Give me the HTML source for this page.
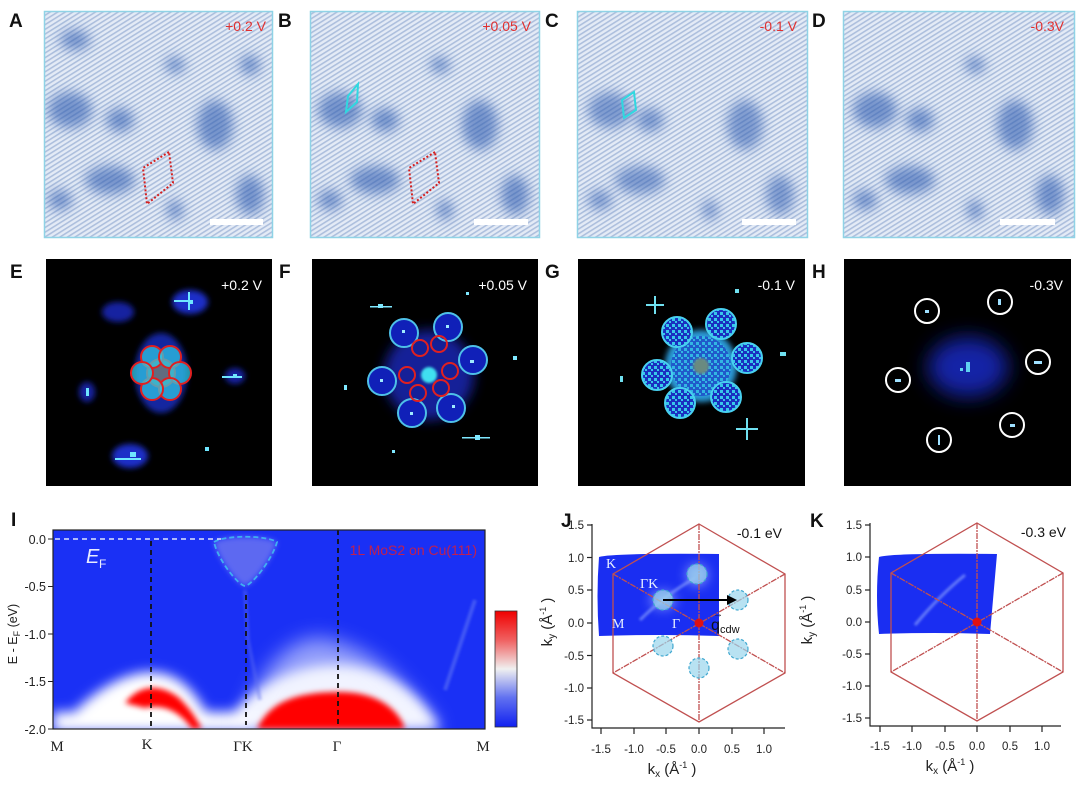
<!DOCTYPE html>
<html><head><meta charset="utf-8"><style>
html,body{margin:0;padding:0;background:#fff;}
svg{display:block;font-family:"Liberation Sans",Arial,sans-serif;}
</style></head><body>
<svg width="1080" height="791" viewBox="0 0 1080 791" xmlns="http://www.w3.org/2000/svg">
<defs>
  <pattern id="stripes" width="4" height="4" patternUnits="userSpaceOnUse" patternTransform="rotate(-32)">
    <rect width="4" height="4" fill="#e4ebf6"/>
    <rect y="0" width="4" height="1.6" fill="#adbfdd"/>
  </pattern>
  <pattern id="speck" width="6" height="6" patternUnits="userSpaceOnUse">
    <rect width="6" height="6" fill="#1a30c0"/>
    <rect x="0" y="0" width="3" height="3" fill="#38c8ea"/>
    <rect x="3" y="3" width="2" height="2" fill="#38c8ea"/>
  </pattern>
  <filter id="b6" x="-50%" y="-50%" width="200%" height="200%"><feGaussianBlur stdDeviation="6"/></filter>
  <filter id="b3" x="-50%" y="-50%" width="200%" height="200%"><feGaussianBlur stdDeviation="3"/></filter>
  <filter id="b10" x="-50%" y="-50%" width="200%" height="200%"><feGaussianBlur stdDeviation="10"/></filter>
  <filter id="b1" x="-50%" y="-50%" width="200%" height="200%"><feGaussianBlur stdDeviation="1.2"/></filter>
  <linearGradient id="cbar" x1="0" y1="0" x2="0" y2="1">
    <stop offset="0" stop-color="#f00000"/><stop offset="0.25" stop-color="#f06060"/>
    <stop offset="0.5" stop-color="#f0f0f0"/><stop offset="0.75" stop-color="#6070f0"/>
    <stop offset="1" stop-color="#1020f0"/>
  </linearGradient>
  <clipPath id="cI"><rect x="53" y="530" width="432" height="199"/></clipPath>
  <clipPath id="cA"><rect x="44" y="11" width="229" height="227"/></clipPath>
  <clipPath id="cB"><rect x="310" y="11" width="230" height="227"/></clipPath>
  <clipPath id="cC"><rect x="577" y="11" width="231" height="227"/></clipPath>
  <clipPath id="cD"><rect x="843" y="11" width="232" height="227"/></clipPath>
</defs>

<g font-weight="bold" font-size="19" fill="#111">
  <text x="9" y="27">A</text><text x="278" y="27">B</text><text x="545" y="27">C</text><text x="812" y="27">D</text>
  <text x="10" y="278">E</text><text x="279" y="278">F</text><text x="545" y="278">G</text><text x="812" y="278">H</text>
  <text x="11" y="526">I</text><text x="561" y="527">J</text><text x="810" y="527">K</text>
</g>

<!-- STM images -->
<g clip-path="url(#cA)">
  <rect x="44" y="11" width="229" height="227" fill="url(#stripes)"/>
  <g fill="#2d5cb0" opacity="0.6" filter="url(#b6)">
    <ellipse cx="70" cy="110" rx="22" ry="18"/><ellipse cx="120" cy="120" rx="14" ry="12"/>
    <ellipse cx="110" cy="180" rx="25" ry="14"/><ellipse cx="215" cy="125" rx="18" ry="25"/>
    <ellipse cx="250" cy="195" rx="14" ry="20"/><ellipse cx="175" cy="65" rx="10" ry="8"/>
    <ellipse cx="60" cy="200" rx="12" ry="10"/><ellipse cx="175" cy="210" rx="8" ry="10"/>
    <ellipse cx="250" cy="65" rx="10" ry="10"/><ellipse cx="75" cy="40" rx="15" ry="10"/>
  </g>
  <polygon points="169,152 143,168 147,204 173,183" fill="none" stroke="#d42020" stroke-width="2" stroke-dasharray="2,2"/>
  <rect x="210" y="219" width="53" height="6" fill="#fff"/>
</g>
<rect x="44.5" y="11.5" width="228" height="226" fill="none" stroke="#8fd3e6" stroke-width="1.5"/>
<text x="266" y="31" font-size="14" fill="#e03030" text-anchor="end">+0.2 V</text>

<g clip-path="url(#cB)">
  <rect x="310" y="11" width="230" height="227" fill="url(#stripes)"/>
  <g fill="#2d5cb0" opacity="0.6" filter="url(#b6)">
    <ellipse cx="340" cy="110" rx="22" ry="18"/><ellipse cx="385" cy="120" rx="14" ry="12"/>
    <ellipse cx="375" cy="180" rx="25" ry="14"/><ellipse cx="480" cy="125" rx="18" ry="25"/>
    <ellipse cx="515" cy="195" rx="14" ry="20"/><ellipse cx="440" cy="65" rx="10" ry="8"/>
    <ellipse cx="330" cy="200" rx="12" ry="10"/><ellipse cx="445" cy="210" rx="8" ry="10"/>
  </g>
  <polygon points="435,152 409,168 413,204 439,183" fill="none" stroke="#d42020" stroke-width="2" stroke-dasharray="2,2"/>
  <polygon points="358,84 348,96 346,112 357,102" fill="none" stroke="#30d8e0" stroke-width="2"/>
  <rect x="474" y="219" width="54" height="6" fill="#fff"/>
</g>
<rect x="310.5" y="11.5" width="229" height="226" fill="none" stroke="#8fd3e6" stroke-width="1.5"/>
<text x="531" y="31" font-size="14" fill="#e03030" text-anchor="end">+0.05 V</text>

<g clip-path="url(#cC)">
  <rect x="577" y="11" width="231" height="227" fill="url(#stripes)"/>
  <g fill="#2d5cb0" opacity="0.55" filter="url(#b6)">
    <ellipse cx="610" cy="110" rx="22" ry="18"/><ellipse cx="650" cy="120" rx="14" ry="12"/>
    <ellipse cx="640" cy="180" rx="25" ry="14"/><ellipse cx="745" cy="125" rx="18" ry="25"/>
    <ellipse cx="780" cy="195" rx="14" ry="20"/><ellipse cx="600" cy="200" rx="12" ry="10"/>
    <ellipse cx="710" cy="210" rx="8" ry="10"/>
  </g>
  <polygon points="634,92 622,100 624,118 636,110" fill="none" stroke="#30d8e0" stroke-width="2"/>
  <rect x="742" y="219" width="54" height="6" fill="#fff"/>
</g>
<rect x="577.5" y="11.5" width="230" height="226" fill="none" stroke="#8fd3e6" stroke-width="1.5"/>
<text x="797" y="31" font-size="14" fill="#e03030" text-anchor="end">-0.1 V</text>

<g clip-path="url(#cD)">
  <rect x="843" y="11" width="232" height="227" fill="url(#stripes)"/>
  <g fill="#2d5cb0" opacity="0.6" filter="url(#b6)">
    <ellipse cx="875" cy="110" rx="22" ry="18"/><ellipse cx="920" cy="120" rx="14" ry="12"/>
    <ellipse cx="910" cy="180" rx="25" ry="14"/><ellipse cx="1015" cy="125" rx="18" ry="25"/>
    <ellipse cx="1050" cy="195" rx="14" ry="20"/><ellipse cx="975" cy="65" rx="10" ry="8"/>
    <ellipse cx="865" cy="200" rx="12" ry="10"/><ellipse cx="975" cy="210" rx="8" ry="10"/>
  </g>
  <rect x="1000" y="219" width="55" height="6" fill="#fff"/>
</g>
<rect x="843.5" y="11.5" width="231" height="226" fill="none" stroke="#8fd3e6" stroke-width="1.5"/>
<text x="1064" y="31" font-size="14" fill="#e03030" text-anchor="end">-0.3V</text>

<!-- FFT E -->
<rect x="46" y="259" width="226" height="227" fill="#000"/>
<g filter="url(#b3)">
  <ellipse cx="161" cy="373" rx="26" ry="40" fill="#1b2ec8" opacity="0.8"/>
  <ellipse cx="190" cy="302" rx="18" ry="12" fill="#1b2ec8"/>
  <ellipse cx="118" cy="312" rx="16" ry="10" fill="#1424a0"/>
  <ellipse cx="130" cy="456" rx="18" ry="12" fill="#1b2ec8"/>
  <ellipse cx="235" cy="376" rx="10" ry="8" fill="#1424a0"/>
  <ellipse cx="87" cy="392" rx="8" ry="10" fill="#1424a0"/>
</g>
<g fill="#6fe6ff">
  <rect x="188" y="300" width="5" height="4"/><rect x="130" y="452" width="6" height="5"/><rect x="233" y="374" width="4" height="4"/>
  <rect x="86" y="388" width="3" height="8"/><rect x="205" y="447" width="4" height="4"/>
  <rect x="174" y="300" width="16" height="2"/><rect x="188" y="292" width="2" height="18"/>
  <rect x="115" y="458" width="26" height="2"/><rect x="222" y="376" width="20" height="2"/>
</g>
<g stroke="#e02020" stroke-width="2" fill="#2fd0e8" fill-opacity="0.7">
  <circle cx="161" cy="373" r="14" fill="#808a70"/>
  <circle cx="152" cy="357" r="11"/><circle cx="170" cy="357" r="11"/>
  <circle cx="180" cy="373" r="11"/><circle cx="170" cy="389" r="11"/>
  <circle cx="152" cy="389" r="11"/><circle cx="142" cy="373" r="11"/>
</g>
<text x="262" y="290" font-size="14" fill="#fff" text-anchor="end">+0.2 V</text>

<!-- FFT F -->
<rect x="312" y="259" width="226" height="227" fill="#000"/>
<g filter="url(#b6)">
  <circle cx="429" cy="375" r="45" fill="#1424a8" opacity="0.9"/>
</g>
<circle cx="429" cy="375" r="8" fill="#40e0f0" filter="url(#b1)"/>
<g fill="#1020b8" stroke="#4ec0e8" stroke-width="2">
  <circle cx="404" cy="333" r="14"/><circle cx="448" cy="327" r="14"/><circle cx="473" cy="360" r="14"/>
  <circle cx="382" cy="381" r="14"/><circle cx="412" cy="413" r="14"/><circle cx="451" cy="408" r="14"/>
</g>
<g fill="#9feaff">
  <rect x="402" y="330" width="3" height="3"/><rect x="446" y="325" width="3" height="3"/><rect x="470" y="360" width="4" height="3"/>
  <rect x="380" y="379" width="3" height="3"/><rect x="410" y="412" width="3" height="3"/><rect x="452" y="405" width="3" height="3"/>
</g>
<g fill="none" stroke="#e02020" stroke-width="2">
  <circle cx="420" cy="348" r="8"/><circle cx="439" cy="344" r="8"/><circle cx="450" cy="371" r="8"/>
  <circle cx="441" cy="388" r="8"/><circle cx="418" cy="393" r="8"/><circle cx="407" cy="375" r="8"/>
</g>
<g fill="#7fe8ff">
  <rect x="378" y="304" width="5" height="4"/><rect x="475" y="435" width="5" height="5"/><rect x="513" y="356" width="4" height="4"/>
  <rect x="344" y="385" width="3" height="5"/><rect x="392" y="450" width="3" height="3"/><rect x="466" y="292" width="3" height="3"/>
  <rect x="462" y="437" width="28" height="1.5"/><rect x="370" y="306" width="22" height="1.5"/>
</g>
<text x="527" y="290" font-size="14" fill="#fff" text-anchor="end">+0.05 V</text>

<!-- FFT G -->
<rect x="578" y="259" width="227" height="227" fill="#000"/>
<g filter="url(#b3)">
  <circle cx="701" cy="366" r="36" fill="#2a9ad8"/>
</g>
<circle cx="701" cy="366" r="30" fill="url(#speck)" opacity="0.6"/>
<g fill="url(#speck)" stroke="#48d0f0" stroke-width="2">
  <circle cx="677" cy="332" r="15"/><circle cx="721" cy="324" r="15"/><circle cx="747" cy="358" r="15"/>
  <circle cx="657" cy="375" r="15"/><circle cx="680" cy="403" r="15"/><circle cx="726" cy="397" r="15"/>
</g>
<circle cx="701" cy="366" r="8" fill="#6a8a80" filter="url(#b1)"/>
<g fill="#70e0f0">
  <rect x="646" y="304" width="18" height="2"/><rect x="654" y="296" width="2" height="18"/>
  <rect x="736" y="428" width="22" height="2"/><rect x="746" y="418" width="2" height="22"/>
  <rect x="780" y="352" width="6" height="4"/><rect x="620" y="376" width="3" height="6"/><rect x="735" y="289" width="4" height="4"/>
</g>
<text x="795" y="290" font-size="14" fill="#fff" text-anchor="end">-0.1 V</text>

<!-- FFT H -->
<rect x="844" y="259" width="227" height="227" fill="#000"/>
<g filter="url(#b10)">
  <ellipse cx="968" cy="367" rx="40" ry="30" fill="#1a2ad0" opacity="0.8"/>
</g>
<g fill="#60d0f0"><rect x="966" y="362" width="4" height="10"/><rect x="960" y="368" width="3" height="3"/></g>
<g fill="none" stroke="#fff" stroke-width="2">
  <circle cx="927" cy="311" r="12"/><circle cx="1000" cy="302" r="12"/><circle cx="1038" cy="362" r="12"/>
  <circle cx="898" cy="380" r="12"/><circle cx="939" cy="440" r="12"/><circle cx="1012" cy="425" r="12"/>
</g>
<g fill="#9fe0ff">
  <rect x="925" y="310" width="4" height="3"/><rect x="998" y="299" width="3" height="6"/><rect x="1034" y="361" width="8" height="3"/>
  <rect x="895" y="379" width="6" height="3"/><rect x="938" y="435" width="2" height="10"/><rect x="1010" y="424" width="5" height="3"/>
</g>
<text x="1063" y="290" font-size="14" fill="#fff" text-anchor="end">-0.3V</text>

<!-- Panel I -->
<g clip-path="url(#cI)">
  <rect x="53" y="530" width="432" height="199" fill="#1a30f5"/>
  <g filter="url(#b6)">
    <path d="M60,729 C80,700 120,672 150,672 C185,672 200,700 215,729 Z" fill="#fff"/>
    <path d="M220,729 C250,690 290,665 335,665 C385,665 420,695 440,729 Z" fill="#fff"/>
    <rect x="53" y="712" width="200" height="20" fill="#fff"/>
  </g>
  <g filter="url(#b10)" opacity="0.6">
    <path d="M240,729 C260,660 300,630 330,640 C380,650 410,690 440,729 Z" fill="#e8ecff"/>
  </g>
  <g filter="url(#b3)">
    <path d="M125,703 C140,684 160,684 178,697 C192,710 198,722 202,729 L192,729 C182,714 165,703 145,708 Z" fill="#f00"/>
    <path d="M257,729 C270,700 300,692 340,692 C380,692 400,712 405,729 Z" fill="#f00"/>
  </g>
  <path d="M214,542 C225,535 265,535 277,542 C272,560 252,585 245,586 C238,585 218,560 214,542 Z" fill="#8a90f0" opacity="0.6" filter="url(#b3)"/>
  <path d="M214,542 C225,535 265,535 277,542 C272,560 252,585 245,586 C238,585 218,560 214,542 Z" fill="none" stroke="#40b0f0" stroke-width="1.8" stroke-dasharray="5,3"/>
  <path d="M245,590 L248,640 L260,700" stroke="#6070f0" stroke-width="4" fill="none" opacity="0.4" filter="url(#b1)"/>
  <path d="M475,600 L445,690" stroke="#6a80f5" stroke-width="4" fill="none" opacity="0.5" filter="url(#b1)"/>
</g>
<line x1="55" y1="539" x2="221" y2="539" stroke="#e0e6ff" stroke-width="1.5" stroke-dasharray="5,4"/>
<g stroke="#111" stroke-width="1.8" stroke-dasharray="5,4">
  <line x1="151" y1="541" x2="151" y2="727"/><line x1="246" y1="595" x2="246" y2="725"/><line x1="338" y1="530" x2="338" y2="727"/>
</g>
<rect x="53" y="530" width="432" height="199" fill="none" stroke="#222" stroke-width="1.2"/>
<text x="86" y="563" font-size="20" font-style="italic" fill="#e8ecff">E</text>
<text x="99" y="568" font-size="12" fill="#e8ecff">F</text>
<text x="477" y="555" font-size="14" fill="#c02050" text-anchor="end">1L MoS2 on Cu(111)</text>
<g stroke="#222" stroke-width="1">
  <line x1="48" y1="539" x2="53" y2="539"/><line x1="48" y1="586.5" x2="53" y2="586.5"/><line x1="48" y1="634" x2="53" y2="634"/>
  <line x1="48" y1="681.5" x2="53" y2="681.5"/><line x1="48" y1="729" x2="53" y2="729"/>
</g>
<g font-size="12.5" fill="#222" text-anchor="end">
  <text x="46" y="544">0.0</text><text x="46" y="591">-0.5</text><text x="46" y="639">-1.0</text>
  <text x="46" y="686">-1.5</text><text x="46" y="734">-2.0</text>
</g>
<text transform="translate(17,634) rotate(-90)" font-size="12.5" fill="#222" text-anchor="middle">E - E<tspan font-size="9" dy="3">F</tspan><tspan dy="-3"> (eV)</tspan></text>
<g font-family="'Liberation Serif',serif" font-size="15" fill="#222" text-anchor="middle">
  <text x="57" y="751">M</text><text x="147" y="749">K</text><text x="243" y="751">ΓK</text><text x="337" y="751">Γ</text><text x="483" y="751">M</text>
</g>
<rect x="495" y="611" width="22" height="116" fill="url(#cbar)" stroke="#333" stroke-width="0.8"/>

<!-- Panel J -->
<path d="M599,557 Q612,553 719,554 L719,636 Q660,634 599,636 Q596,596 599,557 Z" fill="#1a2ef2"/>
<g filter="url(#b6)" fill="#c8d8ff" opacity="0.7">
  <ellipse cx="663" cy="600" rx="12" ry="8"/><ellipse cx="697" cy="575" rx="10" ry="10"/>
</g>
<path d="M640,620 Q665,595 695,578" stroke="#9ab0ff" stroke-width="3" fill="none" opacity="0.6" filter="url(#b1)"/>
<g fill="none" stroke="#c05050" stroke-width="1.3">
  <polygon points="699,524 785,574 785,673 699,722 613,673 613,574"/>
  <line x1="613" y1="574" x2="785" y2="673" stroke-dasharray="6,1,2,1"/>
  <line x1="785" y1="574" x2="613" y2="673" stroke-dasharray="6,1,2,1"/>
  <line x1="699" y1="524" x2="699" y2="722" stroke-dasharray="6,1,2,1"/>
</g>
<g fill="#9ad6ec" fill-opacity="0.7" stroke="#40a8d0" stroke-width="1.2" stroke-dasharray="3,2">
  <circle cx="697" cy="574" r="10"/><circle cx="738" cy="600" r="10"/><circle cx="663" cy="646" r="10"/>
  <circle cx="738" cy="649" r="10"/><circle cx="699" cy="668" r="10"/><circle cx="663" cy="600" r="10"/>
</g>
<line x1="663" y1="600" x2="730" y2="600" stroke="#000" stroke-width="2"/>
<polygon points="737,600 727,595 727,605" fill="#000"/>
<circle cx="699" cy="623" r="4.5" fill="#e01010"/>
<g font-family="'Liberation Serif',serif" font-size="14" fill="#e8f0ff">
  <text x="606" y="568">K</text><text x="640" y="588">ΓK</text><text x="612" y="628">M</text><text x="672" y="628">Γ</text>
</g>
<text x="711" y="630" font-size="16" fill="#111">q</text><text x="720" y="633" font-size="11" fill="#111">cdw</text>
<text x="713" y="617" font-size="10" fill="#111">→</text>
<text x="782" y="538" font-size="14" fill="#111" text-anchor="end">-0.1 eV</text>
<g stroke="#222" stroke-width="1.2" fill="none">
  <polyline points="592,524 592,728 785,728"/>
  <line x1="587" y1="525" x2="592" y2="525"/><line x1="587" y1="557.5" x2="592" y2="557.5"/><line x1="587" y1="590" x2="592" y2="590"/>
  <line x1="587" y1="623" x2="592" y2="623"/><line x1="587" y1="655.5" x2="592" y2="655.5"/><line x1="587" y1="688" x2="592" y2="688"/><line x1="587" y1="720" x2="592" y2="720"/>
  <line x1="601" y1="728" x2="601" y2="734"/><line x1="634" y1="728" x2="634" y2="734"/><line x1="666" y1="728" x2="666" y2="734"/>
  <line x1="699" y1="728" x2="699" y2="734"/><line x1="732" y1="728" x2="732" y2="734"/><line x1="764" y1="728" x2="764" y2="734"/>
</g>
<g font-size="11.5" fill="#222" text-anchor="end">
  <text x="584" y="529">1.5</text><text x="584" y="562">1.0</text><text x="584" y="594">0.5</text><text x="584" y="627">0.0</text>
  <text x="584" y="660">-0.5</text><text x="584" y="692">-1.0</text><text x="584" y="724">-1.5</text>
</g>
<g font-size="11.5" fill="#222" text-anchor="middle">
  <text x="601" y="753">-1.5</text><text x="634" y="753">-1.0</text><text x="666" y="753">-0.5</text>
  <text x="699" y="753">0.0</text><text x="732" y="753">0.5</text><text x="764" y="753">1.0</text>
</g>
<text x="672" y="774" font-size="15" fill="#222" text-anchor="middle">k<tspan font-size="10" dy="3">x</tspan><tspan dy="-3">  (Å</tspan><tspan font-size="9" dy="-6">-1</tspan><tspan dy="6"> )</tspan></text>
<text transform="translate(552,622) rotate(-90)" font-size="15" fill="#222" text-anchor="middle">k<tspan font-size="10" dy="3">y</tspan><tspan dy="-3">  (Å</tspan><tspan font-size="9" dy="-6">-1</tspan><tspan dy="6"> )</tspan></text>

<!-- Panel K -->
<path d="M879,557 Q892,553 997,554 L990,634 Q935,632 879,634 Q875,596 879,557 Z" fill="#1a2ef2"/>
<path d="M915,625 Q940,595 965,575" stroke="#9ab0ff" stroke-width="3" fill="none" opacity="0.6" filter="url(#b1)"/>
<g fill="none" stroke="#c05050" stroke-width="1.3">
  <polygon points="977,523 1063,573 1063,672 977,721 891,672 891,573"/>
  <line x1="891" y1="573" x2="1063" y2="672" stroke-dasharray="6,1,2,1"/>
  <line x1="1063" y1="573" x2="891" y2="672" stroke-dasharray="6,1,2,1"/>
  <line x1="977" y1="523" x2="977" y2="721" stroke-dasharray="6,1,2,1"/>
</g>
<circle cx="977" cy="622" r="4.5" fill="#e01010"/>
<text x="1066" y="537" font-size="14" fill="#111" text-anchor="end">-0.3 eV</text>
<g stroke="#222" stroke-width="1.2" fill="none">
  <polyline points="870,523 870,726 1061,726"/>
  <line x1="865" y1="525" x2="870" y2="525"/><line x1="865" y1="557" x2="870" y2="557"/><line x1="865" y1="590" x2="870" y2="590"/>
  <line x1="865" y1="622" x2="870" y2="622"/><line x1="865" y1="654" x2="870" y2="654"/><line x1="865" y1="686" x2="870" y2="686"/><line x1="865" y1="718" x2="870" y2="718"/>
  <line x1="880" y1="726" x2="880" y2="732"/><line x1="912" y1="726" x2="912" y2="732"/><line x1="945" y1="726" x2="945" y2="732"/>
  <line x1="977" y1="726" x2="977" y2="732"/><line x1="1010" y1="726" x2="1010" y2="732"/><line x1="1042" y1="726" x2="1042" y2="732"/>
</g>
<g font-size="11.5" fill="#222" text-anchor="end">
  <text x="862" y="529">1.5</text><text x="862" y="561">1.0</text><text x="862" y="594">0.5</text><text x="862" y="626">0.0</text>
  <text x="862" y="658">-0.5</text><text x="862" y="690">-1.0</text><text x="862" y="722">-1.5</text>
</g>
<g font-size="11.5" fill="#222" text-anchor="middle">
  <text x="880" y="750">-1.5</text><text x="912" y="750">-1.0</text><text x="945" y="750">-0.5</text>
  <text x="977" y="750">0.0</text><text x="1010" y="750">0.5</text><text x="1042" y="750">1.0</text>
</g>
<text x="950" y="771" font-size="15" fill="#222" text-anchor="middle">k<tspan font-size="10" dy="3">x</tspan><tspan dy="-3">  (Å</tspan><tspan font-size="9" dy="-6">-1</tspan><tspan dy="6"> )</tspan></text>
<text transform="translate(812,620) rotate(-90)" font-size="15" fill="#222" text-anchor="middle">k<tspan font-size="10" dy="3">y</tspan><tspan dy="-3">  (Å</tspan><tspan font-size="9" dy="-6">-1</tspan><tspan dy="6"> )</tspan></text>
</svg>
</body></html>
